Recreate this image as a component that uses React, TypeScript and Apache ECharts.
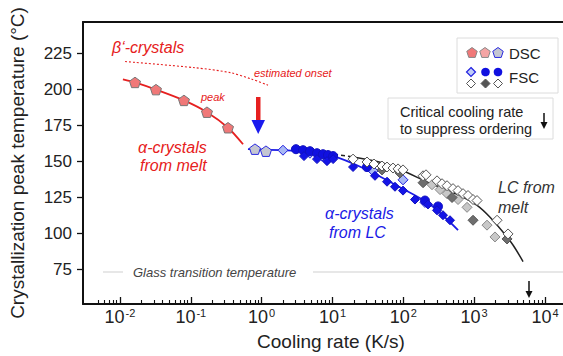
import React, { useEffect, useRef } from "react";
import * as echarts from "echarts";

// ---- axis ticks ----
const X_DECADES = [-2, -1, 0, 1, 2, 3, 4];
const Y_TICKS = [75, 100, 125, 150, 175, 200, 225];

// ---- data: [cooling rate (K/s), temperature (°C)] ----
const DSC_RED = [[0.0163, 205], [0.0322, 200], [0.08, 192.5], [0.169, 184.3], [0.335, 173.5]];
const DSC_BLUE = [[0.805, 158.6], [1.15, 157.2]];
const FSC_LIGHTBLUE = [[2.0, 157.9], [4.81, 155.8], [7.11, 153.8], [37.3, 143.5], [99, 137.3], [202, 121.6]];
const FSC_BLUE_CIRCLE = [[3.05, 158.6], [3.84, 157.9], [4.81, 157.2], [6.04, 155.8], [7.35, 155.1], [8.65, 154.5], [10.2, 153.8], [30.7, 146.2], [202, 122.9], [309, 118.8]];
const FSC_BLUE_DIAMOND = [[3.96, 153.8], [6.04, 151.7], [8.36, 150.3], [10.2, 151.7], [19.5, 146.2], [39.8, 140.1], [58.9, 136], [76.3, 132.5], [99, 129.8], [146, 123.6], [223, 120.2], [299, 116.1], [363, 112.7], [456, 109.2]];
const FSC_WHITE = [[19.5, 151.7], [30.7, 149.7], [38.6, 148.3], [50, 146.9], [58.9, 146.2], [71.5, 145.5], [84.2, 144.9], [99, 144.2], [190, 140.1], [209, 140.8], [299, 136.6], [352, 134.6], [414, 133.2], [503, 131.2], [592, 129.8], [696, 127.7], [819, 126.4], [964, 123.6], [1097, 122.9], [2103, 109.2], [3007, 99.7]];
const FSC_DARK = [[50, 144.2], [89.8, 142.1], [190, 135.3], [487, 125], [964, 109.2], [2911, 96.2]];
const FSC_LIGHTGRAY = [[254, 133.9], [330, 130.5], [414, 127.7], [592, 123.6], [793, 118.2], [1518, 105.8], [1968, 97.6]];

// ---- fitted / guide curves ----
const FIT_RED = [[0.011, 207.2], [0.0163, 205], [0.0322, 200], [0.08, 192.5], [0.169, 184.3], [0.335, 173.5], [0.546, 162]];
const ONSET_RED = [[0.0118, 219.5], [0.115, 215.2], [0.36, 211.8], [0.73, 207.2], [1.23, 203.1]];
const FIT_BLUE = [[0.641, 158.6], [3.47, 157.2], [10.2, 153.8], [27, 145.5], [81.5, 133.2], [238, 120.2], [592, 102.4]];
const FIT_BLACK_DASH = [[8.4, 155.5], [18, 153.5]];
const FIT_BLACK = [[18, 153.5], [47, 149.5], [90, 144.5], [250, 134.5], [630, 126.4], [1100, 119.5], [1675, 111.3], [2550, 101], [3530, 92], [4900, 80.5]];

const FONT = "'Liberation Sans', Arial, Helvetica, sans-serif";
const RED = "#e62020";
const BLUE = "#1a1ae6";
const PENTAGON = "path://M50,0 L97.55,34.55 L79.39,90.45 L20.61,90.45 L2.45,34.55 Z";

const toLog = (arr: number[][]) => arr.map(([r, t]) => [Math.log10(r), t]);

function minorTicks(): number[] {
  const out: number[] = [];
  for (let d = -3; d <= 3; d++) {
    for (let k = 2; k <= 9; k++) {
      const v = d + Math.log10(k);
      if (v > Math.log10(0.0045) && v < 4) out.push(v);
    }
  }
  return out;
}

function pentagonPts(cx: number, cy: number, r: number) {
  const pts: number[][] = [];
  for (let i = 0; i < 5; i++) {
    const a = (-90 + i * 72) * Math.PI / 180;
    pts.push([cx + r * Math.cos(a), cy + r * Math.sin(a)]);
  }
  return pts;
}
function diamondPts(cx: number, cy: number, r: number) {
  return [[cx, cy - r], [cx + r, cy], [cx, cy + r], [cx - r, cy]];
}

function text(x: number, y: number, t: string, font: string, fill: string) {
  return {
    type: "text", x, y, z: 10,
    style: { text: t, font, fill, textAlign: "left", textVerticalAlign: "middle", align: "left", verticalAlign: "middle" },
  };
}
function arrowDown(x: number, y1: number, y2: number, color: string) {
  return [
    { type: "line", z: 10, shape: { x1: x, y1, x2: x, y2: y2 - 5 }, style: { stroke: color, lineWidth: 1.5 } },
    { type: "polygon", z: 10, shape: { points: [[x - 3.5, y2 - 7], [x + 3.5, y2 - 7], [x, y2]] }, style: { fill: color } },
  ];
}

export default function App() {
  const ref = useRef<HTMLDivElement>(null);
  useEffect(() => {
    if (!ref.current) return;
    const chart = echarts.init(ref.current, null, { renderer: "svg" });
    const XMIN = -2.522, XMAX = 4.254;
    const scatter = (name: string, data: number[][], symbol: string, size: number, fill: string, stroke: string, bw = 1) => ({
      name, type: "scatter", data: toLog(data), symbol, symbolSize: size, symbolKeepAspect: true,
      itemStyle: { color: fill, borderColor: stroke, borderWidth: bw, opacity: 1 }, z: 5,
    });
    const line = (data: number[][], color: string, type: any = "solid", width = 1.6, smooth: any = 0.3) => ({
      type: "line", data: toLog(data), symbol: "none", smooth, lineStyle: { color, width, type }, z: 3, silent: true,
    });
    const option: any = {
      animation: false,
      backgroundColor: "#ffffff",
      grid: { left: 83, right: 0, top: 22, bottom: 48, containLabel: false },
      xAxis: [
        {
          type: "value", min: XMIN, max: XMAX, position: "bottom",
          axisLine: { show: true, onZero: false, lineStyle: { color: "#111", width: 2 } },
          axisTick: { show: true, inside: true, length: 7, customValues: X_DECADES, lineStyle: { color: "#111", width: 1.3 } },
          axisLabel: {
            customValues: X_DECADES, margin: 3,
            formatter: (v: number) => `{b|10}{s|${v}}`,
            rich: {
              b: { fontSize: 18, fontFamily: FONT, color: "#222", lineHeight: 20 },
              s: { fontSize: 11, fontFamily: FONT, color: "#222", verticalAlign: "top", lineHeight: 20, padding: [0, 0, 9, 1] },
            },
          },
          splitLine: { show: false },
          name: "Cooling rate (K/s)", nameLocation: "middle", nameGap: 28,
          nameTextStyle: { fontSize: 19, fontFamily: FONT, color: "#222", padding: [0, 0, 0, 16] },
        },
        {
          type: "value", min: XMIN, max: XMAX, position: "bottom",
          axisLine: { show: false, onZero: false },
          axisTick: { show: true, inside: true, length: 4, customValues: minorTicks(), lineStyle: { color: "#111", width: 1.1 } },
          axisLabel: { show: false }, splitLine: { show: false },
        },
        {
          type: "value", min: XMIN, max: XMAX, position: "top",
          axisLine: { show: true, onZero: false, lineStyle: { color: "#111", width: 2 } },
          axisTick: { show: false }, axisLabel: { show: false }, splitLine: { show: false },
        },
      ],
      yAxis: {
        type: "value", min: 51, max: 247,
        axisLine: { show: true, onZero: false, lineStyle: { color: "#111", width: 2 } },
        axisTick: { show: true, inside: false, length: 6, customValues: Y_TICKS, lineStyle: { color: "#111", width: 1.3 } },
        axisLabel: { customValues: Y_TICKS, margin: 11, fontSize: 17, fontFamily: FONT, color: "#222" },
        splitLine: { show: false },
        name: "Crystallization peak temperature (°C)", nameLocation: "middle", nameGap: 56,
        nameTextStyle: { fontSize: 19, fontFamily: FONT, color: "#222" },
      },
      series: [
        line(ONSET_RED, RED, [2, 2], 1.1),
        line(FIT_RED, RED, "solid", 1.8),
        line(FIT_BLUE, BLUE, "solid", 1.8),
        line(FIT_BLACK_DASH, "#222", [4, 3], 1.5, false),
        line(FIT_BLACK, "#222", "solid", 1.5),
        scatter("DSC", DSC_RED, PENTAGON, 11, "#f07878", "#777"),
        scatter("DSC2", DSC_BLUE, PENTAGON, 11, "#c4c6d2", "#2a2ae0"),
        scatter("FSC lb", FSC_LIGHTBLUE, "diamond", 10, "#a8b8f4", "#2020e0"),
        scatter("FSC bc", FSC_BLUE_CIRCLE, "circle", 9, "#1010e0", "#1010c0"),
        scatter("FSC bd", FSC_BLUE_DIAMOND, "diamond", 9, "#1414e6", "#1010c0"),
        scatter("FSC lg", FSC_LIGHTGRAY, "diamond", 10, "#c8c8c8", "#888"),
        scatter("FSC dk", FSC_DARK, "diamond", 10, "#6e6e6e", "#555"),
        scatter("FSC w", FSC_WHITE, "diamond", 10, "#ffffff", "#555"),
      ],
      graphic: [
        // glass transition
        { type: "line", shape: { x1: 103, y1: 272, x2: 123, y2: 272 }, style: { stroke: "#cfcfcf", lineWidth: 1 } },
        { type: "line", shape: { x1: 313, y1: 272, x2: 563, y2: 272 }, style: { stroke: "#cfcfcf", lineWidth: 1 } },
        text(133, 272, "Glass transition temperature", `italic 13px ${FONT}`, "#444"),
        // annotations
        text(112, 47, "β‘-crystals", `italic 16px ${FONT}`, RED),
        text(254, 73, "estimated onset", `italic 11px ${FONT}`, RED),
        text(201, 97, "peak", `italic 11px ${FONT}`, RED),
        text(138, 147, "α-crystals", `italic 16px ${FONT}`, RED),
        text(140, 165, "from melt", `italic 16px ${FONT}`, RED),
        text(325, 213, "α-crystals", `italic 16px ${FONT}`, BLUE),
        text(329, 232, "from LC", `italic 16px ${FONT}`, BLUE),
        text(498, 187, "LC from", `italic 16px ${FONT}`, "#333"),
        text(498, 207, "melt", `italic 16px ${FONT}`, "#333"),
        // red/blue arrow
        { type: "rect", z: 10, shape: { x: 256, y: 97, width: 4.5, height: 24 }, style: { fill: RED } },
        { type: "polygon", z: 10, shape: { points: [[251.5, 120], [265, 120], [258.2, 134]] }, style: { fill: "#1a1aee" } },
        // critical rate arrow
        ...arrowDown(529, 281, 298, "#111"),
        // legend box
        { type: "rect", z: 9, shape: { x: 457, y: 38, width: 101, height: 55 }, style: { fill: "#fff", stroke: "#dcdcdc", lineWidth: 1 } },
        { type: "polygon", z: 10, shape: { points: pentagonPts(472, 53, 5.5) }, style: { fill: "#f07878", stroke: "#888", lineWidth: 1 } },
        { type: "polygon", z: 10, shape: { points: pentagonPts(485, 53, 5.5) }, style: { fill: "#f4a4a4", stroke: "#888", lineWidth: 1 } },
        { type: "polygon", z: 10, shape: { points: pentagonPts(498, 53, 5.5) }, style: { fill: "#c4c6d2", stroke: "#2a2ae0", lineWidth: 1 } },
        text(509, 53, "DSC", `15px ${FONT}`, "#222"),
        { type: "polygon", z: 10, shape: { points: diamondPts(471, 72, 4.5) }, style: { fill: "#c0ccf8", stroke: "#2020e0", lineWidth: 1.2 } },
        { type: "circle", z: 10, shape: { cx: 485.5, cy: 72, r: 4.3 }, style: { fill: "#1010e0" } },
        { type: "circle", z: 10, shape: { cx: 498, cy: 72, r: 4.3 }, style: { fill: "#1010e0" } },
        { type: "polygon", z: 10, shape: { points: diamondPts(471, 83.5, 4.5) }, style: { fill: "#fff", stroke: "#555", lineWidth: 1 } },
        { type: "polygon", z: 10, shape: { points: diamondPts(485.5, 83.5, 4.5) }, style: { fill: "#555", stroke: "#555", lineWidth: 1 } },
        { type: "polygon", z: 10, shape: { points: diamondPts(498, 83.5, 4.5) }, style: { fill: "#fff", stroke: "#555", lineWidth: 1 } },
        text(509, 77, "FSC", `15px ${FONT}`, "#222"),
        // critical cooling box
        { type: "rect", z: 9, shape: { x: 388, y: 98, width: 165, height: 41 }, style: { fill: "#fff", stroke: "#dcdcdc", lineWidth: 1 } },
        text(400, 112, "Critical cooling rate", `14.5px ${FONT}`, "#222"),
        text(400, 129, "to suppress ordering", `14.5px ${FONT}`, "#222"),
        ...arrowDown(544, 113, 129, "#111"),
      ],
    };
    chart.setOption(option);
    return () => chart.dispose();
  }, []);
  return <div ref={ref} style={{ position: "fixed", left: 0, top: 0, width: 563, height: 356 }} />;
}
